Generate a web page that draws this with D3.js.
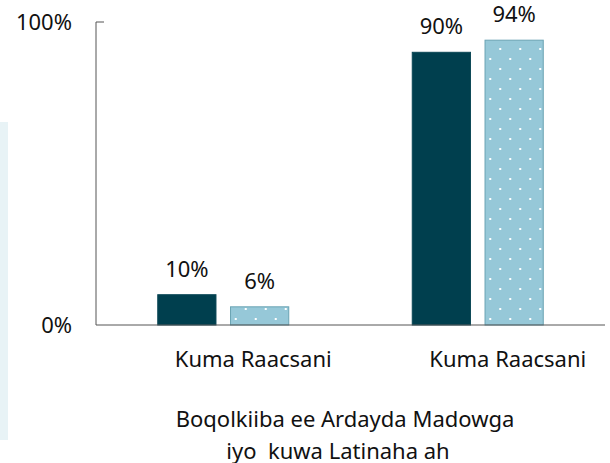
<!DOCTYPE html>
<html>
<head>
<meta charset="utf-8">
<script src="https://cdn.jsdelivr.net/npm/d3@7"></script>
<style>
  body { margin: 0; background: #fff; }
  svg text { font-family: "Noto Sans", sans-serif; fill: #111; }
</style>
</head>
<body>
<div id="chart"></div>
<script>
const categories = ["Kuma Raacsani", "Kuma Raacsani"]
const seriesNames = ["Madow", "Latino"]
const madowValues = [10, 90]
const latinoValues = [6, 94]
const tickValues = [0, 100]
const titleLines = ["Boqolkiiba ee Ardayda Madowga", "iyo  kuwa Latinaha ah"]

const width = 610, height = 463
const svg = d3.select("#chart").append("svg")
  .attr("width", width)
  .attr("height", height)

// small pale panel on the left edge
svg.append("rect")
  .attr("x", 0).attr("y", 122)
  .attr("width", 8).attr("height", 318)
  .attr("fill", "#e8f3f6")

const defs = svg.append("defs")
const pat = defs.append("pattern")
  .attr("id", "dots")
  .attr("patternUnits", "userSpaceOnUse")
  .attr("width", 20).attr("height", 20)
pat.append("rect").attr("width", 20).attr("height", 20).attr("fill", "#96c8d8")
pat.append("rect").attr("x", 7).attr("y", 8).attr("width", 2).attr("height", 2).attr("fill", "#fff")
pat.append("rect").attr("x", 17).attr("y", 18).attr("width", 2).attr("height", 2).attr("fill", "#fff")

const y = d3.scaleLinear().domain([0, 100]).range([325, 22])
const x0 = d3.scaleBand().domain(d3.range(categories.length)).range([96, 605])
const x1 = d3.scaleBand().domain(seriesNames).range([0, 131]).paddingInner(0.2)

const data = categories.map((c, i) => ({ cat: c, i: i, vals: [madowValues[i], latinoValues[i]] }))

const groups = svg.selectAll("g.grp")
  .data(data)
  .join("g")
  .attr("class", "grp")
  .attr("transform", d => "translate(" + (x0(d.i) + x0.bandwidth() / 2 - 65.5) + ",0)")

groups.selectAll("rect")
  .data(d => d.vals.map((v, j) => ({ key: seriesNames[j], v: v })))
  .join("rect")
  .attr("x", d => x1(d.key))
  .attr("y", d => y(d.v))
  .attr("width", x1.bandwidth())
  .attr("height", d => y(0) - y(d.v))
  .attr("fill", d => d.key == "Madow" ? "#003f4e" : "url(#dots)")
  .attr("stroke", d => d.key == "Madow" ? "#0b4756" : "#6aa3b3")
  .attr("stroke-width", 1)

groups.selectAll("text.val")
  .data(d => d.vals.map((v, j) => ({ key: seriesNames[j], v: v })))
  .join("text")
  .attr("class", "val")
  .attr("x", d => x1(d.key) + x1.bandwidth() / 2)
  .attr("y", d => y(d.v) - 18)
  .attr("text-anchor", "middle")
  .style("font-size", "22px")
  .text(d => d.v + "%")

// category labels
svg.selectAll("text.cat")
  .data(data)
  .join("text")
  .attr("class", "cat")
  .attr("x", d => x0(d.i) + x0.bandwidth() / 2 + 30)
  .attr("y", 367)
  .attr("text-anchor", "middle")
  .style("font-size", "22px")
  .text(d => d.cat)

// y axis
const yAxis = d3.axisLeft(y)
  .tickValues(tickValues)
  .tickSize(0)
  .tickPadding(24)
  .tickFormat(d => d + "%")
const ga = svg.append("g")
  .attr("transform", "translate(96,0)")
  .call(yAxis)
ga.select(".domain").attr("stroke", "#555").attr("d", "M8,22H0V325")
ga.selectAll(".tick text")
  .attr("dy", "0.36em")
  .style("font-size", "22px")
  .style("font-family", "Noto Sans")
  .style("fill", "#111")

// baseline
svg.append("line")
  .attr("x1", 96).attr("x2", 605)
  .attr("y1", y(0)).attr("y2", y(0))
  .attr("stroke", "#555")

svg.selectAll("text.title")
  .data(titleLines)
  .join("text")
  .attr("class", "title")
  .attr("x", (d, i) => i == 0 ? 345 : 338)
  .attr("y", (d, i) => 427 + i * 31.5)
  .attr("text-anchor", "middle")
  .style("font-size", "22px")
  .style("white-space", "pre")
  .text(d => d)
</script>
</body>
</html>
